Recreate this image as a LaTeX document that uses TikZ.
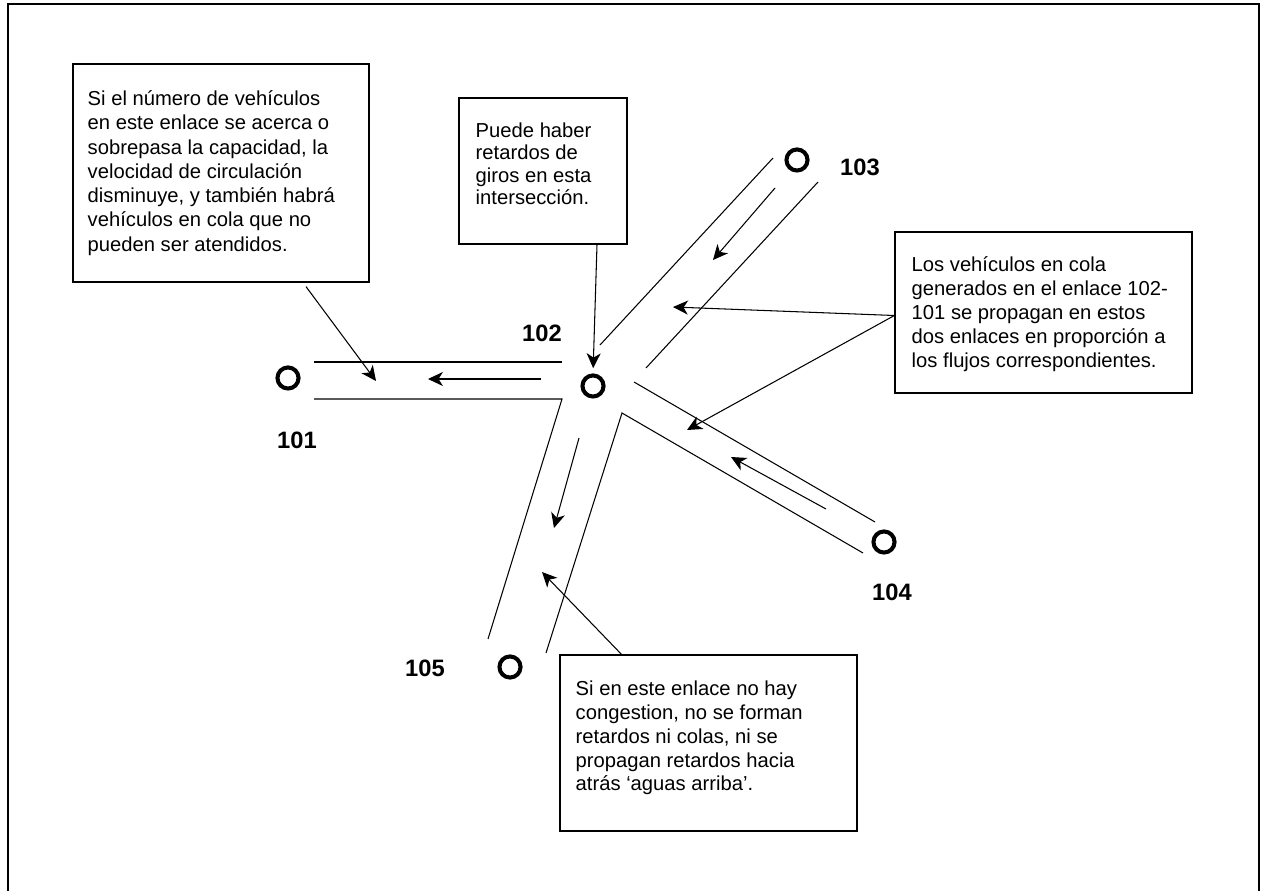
\documentclass[tikz,border=0pt]{standalone}
\usepackage{fontspec}
\setmainfont{Liberation Sans}
\usetikzlibrary{arrows.meta,positioning,fit,calc}

\tikzset{
  nota/.style={draw,line width=0.7pt,inner sep=0pt},
  texto/.style={anchor=north west,align=left,inner sep=0pt,font=\fontsize{11.5}{13.6}\selectfont},
  nodo/.style={circle,draw,line width=2.3pt,minimum size=12pt,inner sep=0pt},
  etiq/.style={font=\fontsize{13.5}{16}\selectfont\bfseries},
  via/.style={line width=0.6pt},
  flecha/.style={line width=0.6pt,-{Stealth[length=8.5pt,width=8pt,inset=2.5pt]}}
}

\begin{document}
\begin{tikzpicture}[x=0.02cm,y=-0.02cm]
  \useasboundingbox (0,0) rectangle (1265,891);
  \draw[line width=1.4pt] (8,4) rectangle (1259,900);

  % intersecciones
  \node[nodo] (n101) at (288,378) {};
  \node[nodo] (n102) at (593,386) {};
  \node[nodo] (n103) at (797,160) {};
  \node[nodo] (n104) at (884,542) {};
  \node[nodo] (n105) at (510,667) {};
  \node[etiq] (e101) at (297,440) {101};
  \node[etiq] (e102) at (542,333) {102};
  \node[etiq] (e103) at (860,167) {103};
  \node[etiq] (e104) at (892,592) {104};
  \node[etiq] (e105) at (425,668) {105};

  % enlaces
  \draw[via] (314,362) -- (562,362);
  \draw[via] (314,399) -- (562,399) -- (488,639);
  \draw[via] (546,653) -- (622,413) -- (863,553);
  \draw[via] (634,382) -- (875,522);
  \draw[via] (600,345) -- (773,158);
  \draw[via] (646,368) -- (818,182);

  % sentido del flujo
  \draw[flecha] (541,379) -- (428,379);
  \draw[flecha] (775,188) -- (713,260);
  \draw[flecha] (826,509) -- (731,457);
  \draw[flecha] (579,438) -- (554,528);

  % notas
  \node[nota,fit={(73,64) (369,282)}] (nota1) {};
  \node[texto,font=\fontsize{11.5}{13.8}\selectfont] (t1) at ($(nota1.north west)+(15,27)$) {Si el número de vehículos\\
    en este enlace se acerca o\\
    sobrepasa la capacidad, la\\
    velocidad de circulación\\
    disminuye, y también habrá\\
    vehículos en cola que no\\
    pueden ser atendidos.};

  \node[nota,fit={(459,98) (627,244)}] (nota2) {};
  \node[texto,font=\fontsize{11.5}{12.8}\selectfont] (t2) at ($(nota2.north west)+(17,25)$) {Puede haber\\
    retardos de\\
    giros en esta\\
    intersección.};

  \node[nota,fit={(895,232) (1192,393)}] (nota3) {};
  \node[texto] (t3) at ($(nota3.north west)+(17,25)$) {Los vehículos en cola\\
    generados en el enlace 102-\\
    101 se propagan en estos\\
    dos enlaces en proporción a\\
    los flujos correspondientes.};

  \node[nota,fit={(560,655) (857,831)}] (nota4) {};
  \node[texto] (t4) at ($(nota4.north west)+(16,26)$) {Si en este enlace no hay\\
    congestion, no se forman\\
    retardos ni colas, ni se\\
    propagan retardos hacia\\
    atrás ‘aguas arriba’.};

  % llamadas
  \coordinate (p1) at (376,381);
  \coordinate (p3a) at (673,307);
  \coordinate (p3b) at (687,430);
  \coordinate (p4) at (542,572);
  \draw[flecha] ($(nota1.south)+(85,4)$) -- (p1);
  \draw[flecha,shorten >=3pt] ($(nota2.south)+(54,0)$) -- (n102.north);
  \draw[flecha] ($(nota3.west)+(0,3)$) -- (p3a);
  \draw[flecha] ($(nota3.west)+(0,3)$) -- (p3b);
  \draw[flecha] ($(nota4.north)+(-87,0)$) -- (p4);
\end{tikzpicture}
\end{document}
